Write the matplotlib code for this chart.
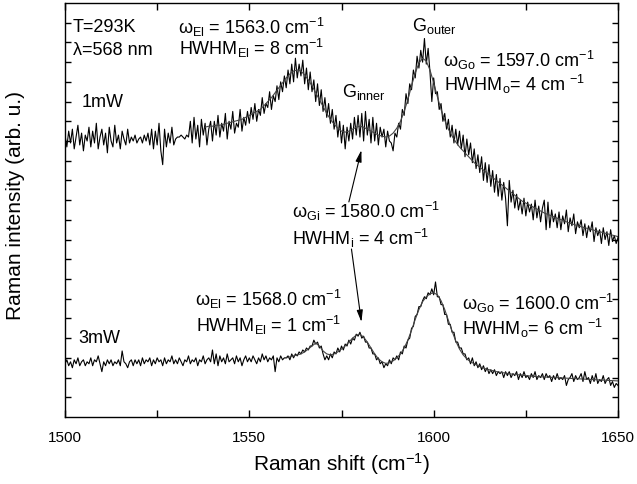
import numpy as np
import matplotlib
matplotlib.use("Agg")
import matplotlib.pyplot as plt
from matplotlib.ticker import FixedLocator, NullFormatter

plt.rcParams['font.family'] = ['Liberation Sans', 'DejaVu Sans']
plt.rcParams['mathtext.fontset'] = 'custom'
plt.rcParams['mathtext.rm'] = 'Liberation Sans'
plt.rcParams['mathtext.it'] = 'Liberation Sans:italic'
plt.rcParams['mathtext.bf'] = 'Liberation Sans:bold'

# ---------------- data ----------------
shift_start = 1500.0
shift_step = 0.5

# 1 mW spectrum (upper trace), sampled every 0.5 cm-1 from 1500 to 1650
spec_1mW = [
    14.3, 13.7, 14.5, 13.9, 14.6, 13.6, 14.2, 14.8, 13.8, 14.4, 13.5, 14.3, 14.0, 14.7, 13.7, 14.5, 13.9, 14.9, 13.6, 14.2,
    14.6, 13.8, 14.4, 13.4, 14.7, 14.0, 13.7, 14.8, 13.9, 14.3, 13.6, 14.5, 14.1, 13.8, 14.6, 13.9, 14.2, 14.0, 14.3, 13.9,
    14.1, 14.2, 13.9, 14.3, 14.0, 14.4, 13.8, 14.6, 13.6, 14.5, 13.8, 14.9, 13.5, 12.8, 14.6, 13.7, 14.4, 13.9, 14.7, 13.8,
    14.1, 14.2, 14.2, 14.3, 14.2, 14.1, 14.3, 14.2, 15.0, 13.9, 15.2, 14.1, 14.8, 13.7, 15.1, 14.3, 14.9, 13.8, 14.6, 15.0,
    14.0, 15.0, 14.3, 15.3, 14.2, 14.9, 14.5, 15.4, 14.1, 15.0, 14.6, 15.5, 14.4, 14.9, 14.7, 15.6, 14.5, 15.2, 14.8, 15.5,
    14.9, 15.7, 15.1, 15.9, 15.0, 15.6, 15.3, 16.2, 15.4, 15.9, 15.7, 16.5, 15.6, 16.3, 16.0, 16.8, 16.1, 17.0, 16.5, 17.3,
    16.7, 17.6, 16.9, 17.9, 17.0, 18.2, 17.2, 17.9, 17.3, 18.1, 16.9, 17.7, 16.6, 17.5, 16.5, 17.1, 16.0, 16.9, 15.8, 16.6,
    15.5, 16.2, 15.2, 15.9, 14.9, 15.6, 14.6, 15.3, 14.2, 15.0, 13.9, 14.8, 13.6, 14.7, 14.0, 14.9, 14.1, 15.2, 14.3, 15.3,
    14.2, 15.4, 14.0, 15.5, 14.3, 15.1, 13.9, 15.2, 14.0, 14.9, 13.8, 14.7, 14.2, 14.6, 13.7, 14.5, 14.0, 13.9, 13.5, 14.4,
    14.2, 14.9, 14.6, 15.6, 15.3, 16.4, 15.9, 16.9, 16.6, 17.6, 17.2, 18.3, 17.7, 18.6, 18.0, 19.2, 17.9, 18.7, 17.5, 16.0,
    17.2, 16.4, 16.5, 15.6, 15.9, 15.0, 15.4, 14.6, 15.1, 14.2, 14.8, 13.9, 14.6, 13.8, 14.5, 13.6, 14.3, 13.2, 14.1, 13.3,
    13.9, 12.9, 13.6, 12.6, 13.3, 12.4, 13.2, 12.0, 12.9, 11.9, 12.8, 11.7, 12.5, 11.4, 12.3, 11.2, 12.1, 11.0, 11.9, 11.1,
    9.7, 12.0, 10.9, 11.5, 10.6, 11.3, 10.5, 11.0, 10.3, 11.1, 10.2, 10.9, 10.4, 10.8, 10.0, 11.0, 10.1, 10.7, 9.9, 10.6,
    11.0, 9.5, 10.9, 9.6, 10.5, 9.9, 10.3, 9.6, 10.4, 9.5, 10.2, 9.8, 10.5, 9.4, 10.1, 9.7, 10.3, 9.3, 9.9, 9.6,
    10.0, 9.2, 9.8, 9.1, 9.7, 9.4, 9.9, 8.9, 9.6, 9.2, 9.5, 8.8, 9.6, 9.0, 9.4, 8.7, 9.5, 8.9, 9.2, 8.8, 9.1,
]

# 3 mW spectrum (lower trace), same sampling
spec_3mW = [
    2.7, 2.9, 2.6, 2.8, 2.5, 2.9, 2.7, 3.0, 2.6, 2.8, 2.9, 2.6, 2.8, 2.7, 3.0, 2.6, 2.9, 2.8, 3.1, 2.7,
    2.3, 2.8, 2.6, 2.9, 2.7, 2.9, 2.6, 2.8, 2.7, 2.9, 2.6, 3.35, 2.8, 2.7, 2.5, 2.8, 2.9, 2.6, 2.9, 2.7,
    2.9, 2.6, 3.0, 2.7, 2.9, 2.8, 3.0, 2.6, 2.9, 2.7, 3.0, 2.8, 2.9, 2.6, 3.0, 2.7, 2.9, 2.8, 3.1, 2.7,
    2.9, 2.7, 3.0, 2.8, 2.6, 2.9, 2.8, 3.1, 2.7, 2.9, 2.8, 3.0, 2.6, 2.9, 2.8, 3.1, 2.7, 2.9, 3.0, 2.8,
    3.4, 2.7, 3.2, 2.6, 3.1, 2.8, 3.0, 2.7, 3.2, 2.8, 2.9, 3.0, 2.7, 3.1, 2.8, 3.0, 2.6, 2.9, 3.1, 2.8,
    3.0, 2.8, 3.1, 2.9, 2.7, 3.0, 2.8, 3.2, 2.9, 3.1, 2.8, 3.0, 2.9, 3.1, 2.3, 3.0, 2.8, 3.1, 2.9, 3.0,
    3.0, 3.1, 2.9, 3.2, 3.0, 3.2, 3.1, 3.3, 3.2, 3.4, 3.3, 3.5, 3.4, 3.6, 3.6, 3.9, 3.7, 3.8, 3.5, 3.6,
    3.2, 2.9, 3.1, 2.9, 3.2, 3.0, 3.3, 3.2, 3.5, 3.3, 3.6, 3.4, 3.7, 3.6, 3.9, 3.7, 4.0, 3.9, 4.2, 4.1,
    4.3, 4.0, 4.1, 3.8, 3.8, 3.5, 3.5, 3.2, 3.2, 2.9, 3.0, 2.7, 2.8, 2.5, 2.7, 2.6, 2.9, 2.7, 3.0, 2.9,
    3.1, 2.9, 3.3, 3.2, 3.6, 3.5, 3.9, 4.0, 4.5, 4.6, 5.1, 5.2, 5.6, 5.6, 5.9, 6.1, 6.0, 6.3, 6.2, 6.5,
    6.2, 6.85, 6.1, 6.1, 5.7, 5.7, 5.2, 5.2, 4.7, 4.7, 4.3, 4.3, 3.8, 3.8, 3.5, 3.5, 3.2, 3.2, 2.9, 3.0,
    2.7, 3.0, 2.6, 2.8, 2.5, 2.7, 2.4, 2.6, 2.3, 2.5, 2.2, 2.4, 2.2, 2.4, 2.1, 2.3, 2.2, 2.3, 2.0, 2.3,
    2.1, 2.3, 2.0, 2.2, 2.1, 2.3, 1.9, 2.2, 2.0, 2.3, 2.0, 2.1, 1.9, 2.2, 2.0, 2.3, 1.9, 2.1, 2.0, 2.2,
    1.9, 2.2, 2.0, 2.1, 1.8, 2.1, 1.9, 2.2, 1.9, 2.0, 1.9, 2.1, 1.6, 1.9, 2.0, 2.2, 1.8, 2.1, 1.9, 2.0,
    2.2, 1.8, 2.3, 1.9, 2.0, 1.7, 2.1, 1.8, 2.2, 1.7, 1.9, 1.8, 2.1, 1.7, 1.9, 2.0, 1.6, 1.8, 1.5, 1.7, 1.6,
]

# Lorentzian fit curves (1 cm-1 sampling)
fit_1mW_start = 1538
fit_1mW = [
    14.7, 14.75, 14.75, 14.8, 14.8, 14.85, 14.9, 14.95, 15.0, 15.05, 15.1, 15.2,
    15.3, 15.4, 15.5, 15.6, 15.8, 16.0, 16.2, 16.45, 16.7, 16.95,
    17.2, 17.4, 17.55, 17.6, 17.55, 17.35, 17.1, 16.8, 16.45, 16.1,
    15.75, 15.4, 15.1, 14.85, 14.65, 14.5, 14.45, 14.5, 14.6, 14.7,
    14.75, 14.7, 14.6, 14.5, 14.4, 14.3, 14.25, 14.2, 14.25, 14.4,
    14.65, 15.0, 15.5, 16.1, 16.8, 17.45, 17.95, 18.2, 18.05, 17.6,
    16.95, 16.25, 15.6, 15.05, 14.6, 14.25, 13.95, 13.7, 13.5, 13.3,
    13.1, 12.9, 12.75, 12.6, 12.45, 12.3, 12.15, 12.0, 11.85, 11.7,
    11.55, 11.4, 11.25, 11.1, 10.95, 10.85, 10.75, 10.65, 10.55, 10.45,
    10.35, 10.27, 10.2, 10.12, 10.05, 9.98, 9.9, 9.83, 9.77, 9.7,
    9.65, 9.6, 9.55, 9.5, 9.45, 9.4, 9.35, 9.3, 9.25, 9.2, 9.15,
]
fit_3mW_start = 1560
fit_3mW = [
    3.0, 3.05, 3.1, 3.15, 3.2, 3.3, 3.45, 3.6, 3.75, 3.6,
    3.35, 3.2, 3.15, 3.2, 3.3, 3.45, 3.6, 3.8, 4.0, 4.15,
    4.2, 4.05, 3.8, 3.5, 3.2, 2.95, 2.8, 2.72, 2.75, 2.85,
    3.0, 3.2, 3.5, 3.9, 4.4, 4.95, 5.45, 5.85, 6.1, 6.25,
    6.3, 6.2, 5.9, 5.45, 4.9, 4.35, 3.85, 3.45, 3.15, 2.95,
    2.8, 2.7, 2.6, 2.52, 2.45, 2.4, 2.35, 2.3, 2.27, 2.24,
    2.21, 2.18, 2.16, 2.14, 2.12, 2.1, 2.08, 2.06, 2.05, 2.04,
    2.03, 2.02, 2.01, 2.0, 1.99, 1.98, 1.97, 1.96, 1.95, 1.94,
    1.93, 1.92, 1.91, 1.9, 1.89, 1.88, 1.87, 1.86, 1.85, 1.84, 1.83,
]

assert len(spec_1mW) == 301, len(spec_1mW)
assert len(spec_3mW) == 301, len(spec_3mW)
assert len(fit_1mW) == 113, len(fit_1mW)
assert len(fit_3mW) == 91, len(fit_3mW)

x_ticks_major = [1500, 1550, 1600, 1650]
x_ticks_minor = [1525, 1575, 1625]

shift = shift_start + shift_step * np.arange(len(spec_1mW))
fit1_x = fit_1mW_start + np.arange(len(fit_1mW))
fit3_x = fit_3mW_start + np.arange(len(fit_3mW))

# ---------------- figure ----------------
fig = plt.figure(figsize=(6.37, 4.85), dpi=100)
ax = fig.add_axes([65/637, 1 - 418/485, (618-65)/637, (418-4)/485])

ax.plot(shift, spec_1mW, color='black', lw=0.8)
ax.plot(shift, spec_3mW, color='black', lw=0.8)
ax.plot(fit1_x, fit_1mW, color='#444444', lw=0.8)
ax.plot(fit3_x, fit_3mW, color='#444444', lw=0.8)

ax.set_xlim(1500, 1650)
ax.set_ylim(0, 21)

ax.xaxis.set_major_locator(FixedLocator(x_ticks_major))
ax.xaxis.set_minor_locator(FixedLocator(x_ticks_minor))
ax.yaxis.set_major_locator(FixedLocator(list(range(1, 21))))
ax.yaxis.set_major_formatter(NullFormatter())
ax.tick_params(axis='x', which='both', direction='in', top=True, bottom=True,
               length=5, width=1.0, labelsize=11, pad=9)
ax.tick_params(axis='y', which='both', direction='in', left=True, right=True,
               length=4, width=1.0)
for s in ax.spines.values():
    s.set_linewidth(1.0)

ax.set_xlabel('Raman shift (cm$^{-1}$)', fontsize=15, labelpad=5)
ax.set_ylabel('Raman intensity (arb. u.)', fontsize=15)
ax.yaxis.set_label_coords(-0.072, 0.514)

fs = 13
def txt(x, y, s, size=fs):
    ax.text(x, y, s, fontsize=size, ha='left', va='baseline')

txt(1502.2, 19.58, 'T=293K')
txt(1502.2, 18.41, 'λ=568 nm')
txt(1504.6, 15.78, '1mW')
txt(1503.5, 3.80, '3mW')
txt(1530.7, 19.48, r'ω$_{\rm El}$ = 1563.0 cm$^{-1}$')
txt(1530.9, 18.41, r'HWHM$_{\rm El}$ = 8 cm$^{-1}$')
txt(1575.1, 16.28, r'G$_{\rm inner}$')
txt(1594.1, 19.63, r'G$_{\rm outer}$')
txt(1602.5, 17.80, r'ω$_{\rm Go}$ = 1597.0 cm$^{-1}$')
txt(1602.8, 16.60, r'HWHM$_{\rm o}$= 4 cm $^{-1}$')
txt(1561.6, 10.15, r'ω$_{\rm Gi}$ = 1580.0 cm$^{-1}$')
txt(1561.6, 8.78, r'HWHM$_{\rm i}$ = 4 cm$^{-1}$')
txt(1535.3, 5.68, r'ω$_{\rm El}$ = 1568.0 cm$^{-1}$')
txt(1535.5, 4.36, r'HWHM$_{\rm El}$ = 1 cm$^{-1}$')
txt(1607.7, 5.48, r'ω$_{\rm Go}$ = 1600.0 cm$^{-1}$')
txt(1607.7, 4.21, r'HWHM$_{\rm o}$= 6 cm $^{-1}$')

arrow_props = dict(arrowstyle='-|>,head_length=0.7,head_width=0.18', color='black',
                   lw=0.8, shrinkA=0, shrinkB=0)
ax.annotate('', xy=(1580.4, 13.54), xytext=(1577.0, 10.91), arrowprops=arrow_props)
ax.annotate('', xy=(1580.4, 4.82), xytext=(1577.7, 8.52), arrowprops=arrow_props)

fig.savefig('out.png', dpi=100)
